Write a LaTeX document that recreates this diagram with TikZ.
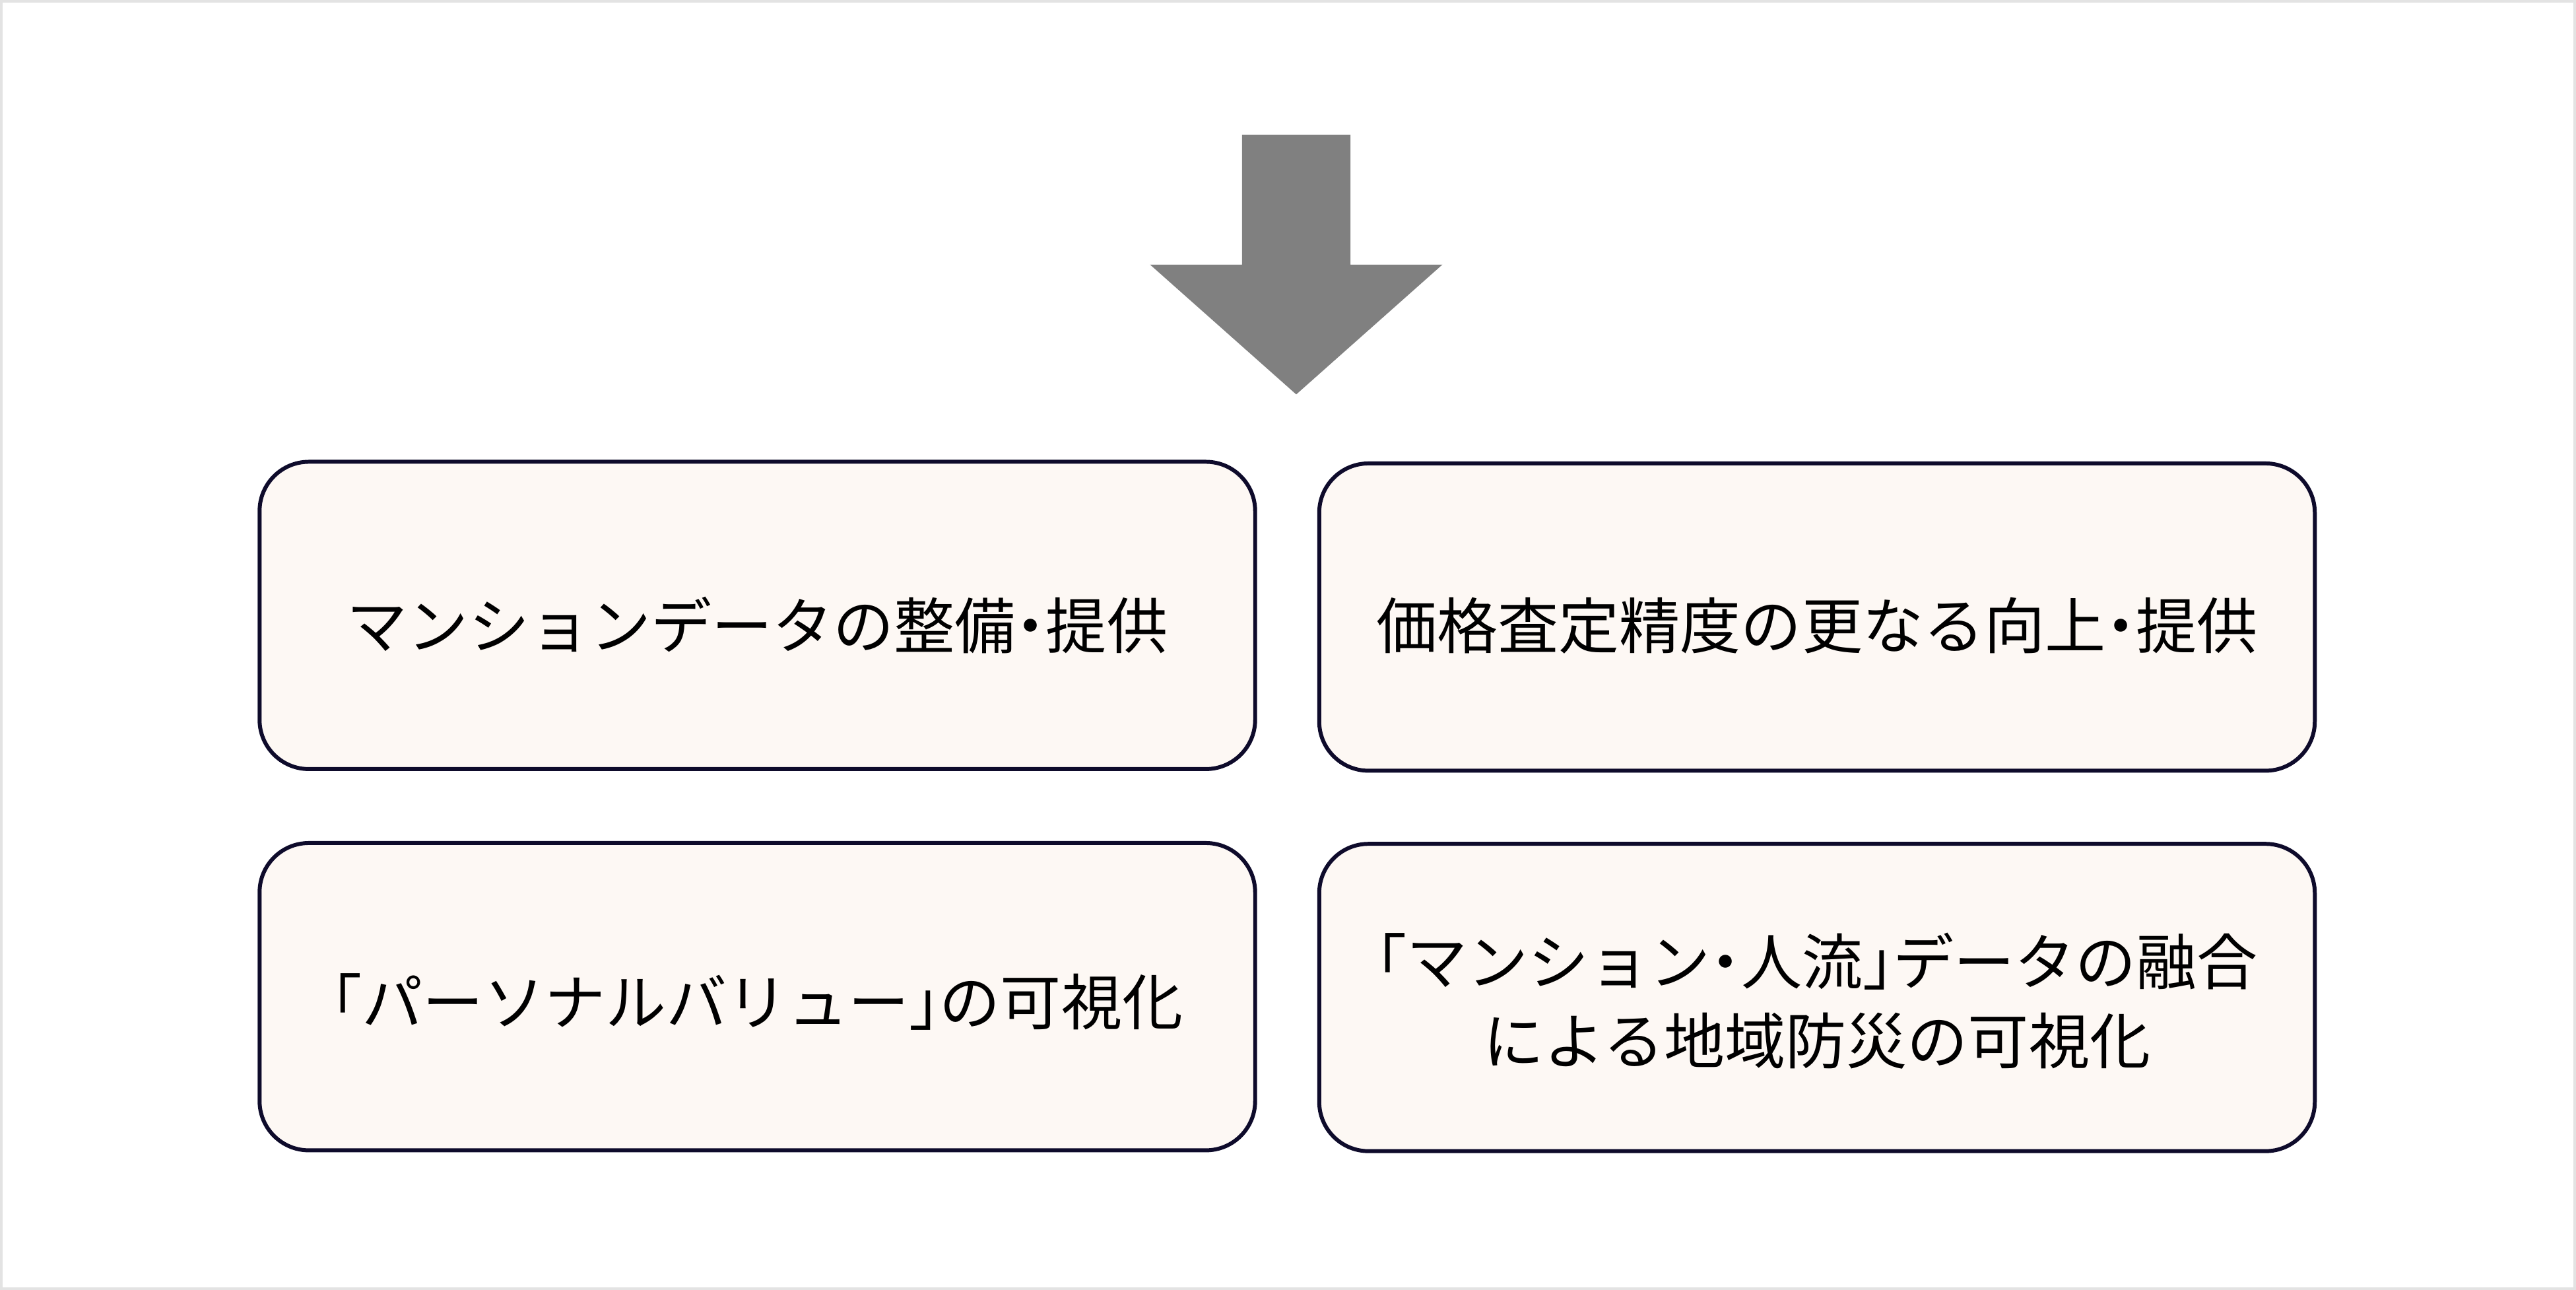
\documentclass[tikz,border=0pt]{standalone}
\usepackage{fontspec}
\setmainfont{Noto Sans CJK JP}[RawFeature={+halt}]
\definecolor{boxline}{HTML}{0E0B2B}
\definecolor{boxfill}{HTML}{FDF8F4}
\definecolor{arrowgray}{HTML}{808080}
\definecolor{framegray}{HTML}{E3E3E3}
\begin{document}
\begin{tikzpicture}[x=1pt,y=-1pt,
  card/.style={draw=boxline, fill=boxfill, line width=2.4pt, rounded corners=30pt,
    minimum width=606pt, minimum height=187pt, inner sep=0pt},
  cardtext/.style={inner sep=0pt, align=center,
    font=\fontsize{37pt}{48pt}\selectfont, text=black}]
\draw[framegray, fill=white, line width=1.5pt] (0.75,0.75) rectangle (1567.25,784.25);
\useasboundingbox (0,0) rectangle (1568,785);
\fill[arrowgray] (756,82) -- (822,82) -- (822,161) -- (878,161) -- (789,240) -- (700,161) -- (756,161) -- cycle;
\node[card] (b1) at (461,374.5) {};
\node[card] (b2) at (1106,375.5) {};
\node[card] (b3) at (461,606.5) {};
\node[card] (b4) at (1106,607) {};
\node[cardtext] (t1) at ([yshift=-6pt]b1.center) {マンションデータの整備・提供};
\node[cardtext] (t2) at ([yshift=-5pt]b2.center) {価格査定精度の更なる向上・提供};
\node[cardtext] (t3) at ([yshift=-3pt]b3.center) {「パーソナルバリュー」の可視化};
\node[cardtext] (t4) at ([yshift=-2pt]b4.center) {「マンション・人流」データの融合\\による地域防災の可視化};
\end{tikzpicture}
\end{document}
